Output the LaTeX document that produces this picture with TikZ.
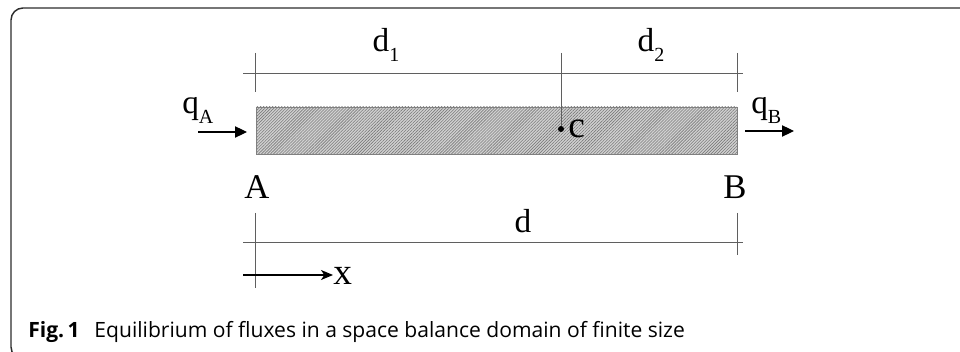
\documentclass[tikz,border=0pt]{standalone}
\usepackage{fontspec}
\setmainfont{Liberation Serif}
\newfontfamily\capfont{Open Sans}
\usetikzlibrary{
  arrows.meta,
  patterns.meta,
  positioning
}
\definecolor{framegray}{RGB}{45,45,45}
\definecolor{dimgray}{RGB}{95,95,95}
\tikzset{
  dimline/.style={draw=dimgray,line width=0.6pt},
  flux/.style={-{Triangle[length=9pt,width=8.5pt]},line width=0.8pt,draw=black},
  axis arrow/.style={-{Stealth[length=9pt,width=7.5pt,inset=2.5pt]},line width=0.8pt,draw=black},
  lbl/.style={font=\fontsize{25}{25}\selectfont,inner sep=0pt},
  big lbl/.style={font=\fontsize{26}{26}\selectfont,inner sep=0pt},
  small lbl/.style={font=\fontsize{28}{28}\selectfont,inner sep=0pt},
  bar/.style={
    draw=black!50,
    line width=0.5pt,
    preaction={fill=black!18},
    pattern={Lines[angle=45,distance=1.6pt,line width=0.45pt]},
    pattern color=black!52,
    minimum width=360.75pt,
    minimum height=35.25pt,
    inner sep=0pt
  },
  dot/.style={circle,fill=black,inner sep=0pt,minimum size=4.5pt}
}
\newcommand{\lsub}[1]{\raisebox{-0.3em}{\fontsize{15}{15}\selectfont #1}}

\begin{document}
\begin{tikzpicture}[x=0.75pt,y=-0.75pt]
  \useasboundingbox (0,0) rectangle (960,352);
  \draw[framegray,line width=1.1pt,rounded corners=9] (975,8) -- (11,8) -- (11,359) -- (40,359);

  % domain
  \node[bar] (bar) at (496.5,130.5) {};
  \node[dot] (c) at (561,129) {};
  \node[small lbl,anchor=base west] (clbl) at (568,138) {c};

  % fluxes
  \node[lbl,anchor=base west] (qA) at (182,114) {q\lsub{A}};
  \node[lbl,anchor=base west] (qB) at (751,114) {q\lsub{B}};
  \coordinate (qAtail) at (198,132);
  \coordinate (qAtip) at (247,132);
  \coordinate (qBtail) at (745,131);
  \coordinate (qBtip) at (794,131);
  \draw[flux] (qAtail) -- (qAtip);
  \draw[flux] (qBtail) -- (qBtip);

  % upper dimensions
  \coordinate (t1) at (243,73);
  \coordinate (t2) at (743,73);
  \draw[dimline] (t1) -- (t2);
  \draw[dimline] (bar.west |- 0,53) -- (bar.west |- 0,92);
  \draw[dimline] (bar.east |- 0,53) -- (bar.east |- 0,92);
  \draw[dimline] (c |- 0,53) -- (c);
  \node[lbl,anchor=base] (d1) at (386,52) {d\lsub{1}};
  \node[lbl,anchor=base] (d2) at (651,52) {d\lsub{2}};

  % end points
  \node[big lbl,anchor=base] (A) at (257,199) {A};
  \node[big lbl,anchor=base] (B) at (735,199) {B};

  % lower dimension
  \coordinate (b1) at (243,242);
  \coordinate (b2) at (743,242);
  \draw[dimline] (b1) -- (b2);
  \draw[dimline] (bar.west |- 0,213) -- (bar.west |- 0,288);
  \draw[dimline] (bar.east |- 0,213) -- (bar.east |- 0,255);
  \node[lbl,anchor=base] (d) at (523,233) {d};

  % axis
  \coordinate (xtail) at (243,275);
  \node[small lbl,anchor=base west] (xlbl) at (333,285) {x};
  \draw[axis arrow] (xtail) -- (xlbl.west |- xtail);

  \node[anchor=base west,inner sep=0pt,font=\capfont\fontsize{15.8}{16}\selectfont] (cap) at (28,338)
    {\textbf{Fig.\,1}\hspace{0.7em}Equilibrium of fluxes in a space balance domain of finite size};
\end{tikzpicture}
\end{document}
